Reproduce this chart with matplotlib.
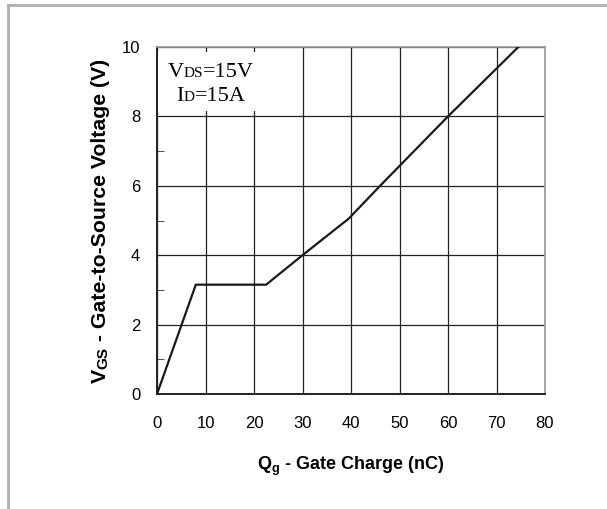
import matplotlib.pyplot as plt
from matplotlib.lines import Line2D
from matplotlib.patches import Rectangle
from matplotlib.offsetbox import TextArea, HPacker, VPacker, AnnotationBbox
from matplotlib.ticker import MultipleLocator

# gate charge curve
qg = [0, 8, 22.5, 30, 39.5, 46, 60, 74.5]
vgs = [0, 3.15, 3.15, 4.0, 5.05, 6.0, 8.0, 10.0]

x_ticks = [0, 10, 20, 30, 40, 50, 60, 70, 80]
y_ticks = [0, 2, 4, 6, 8, 10]

plt.rcParams['font.family'] = ['Liberation Sans', 'DejaVu Sans']

fig = plt.figure(figsize=(6.07, 5.09), dpi=100)
ax = fig.add_axes([157 / 607, 1 - 394 / 509, 388 / 607, 347 / 509])

ax.set_xlim(0, 80)
ax.set_ylim(0, 10)
ax.set_xticks(x_ticks)
ax.set_yticks(y_ticks)
ax.yaxis.set_minor_locator(MultipleLocator(1))
ax.grid(True, which='major', color='#222222', lw=0.9)
ax.tick_params(which='both', direction='in', labelsize=12, color='#333333')
ax.tick_params(which='major', length=0)
ax.tick_params(which='minor', length=5)
ax.tick_params(axis='x', pad=16)
ax.tick_params(axis='y', pad=12)

ax.plot(qg, vgs, color='#1a1a1a', lw=1.6, zorder=3)

for side in ['top', 'right']:
    ax.spines[side].set_color('#999999')
    ax.spines[side].set_linewidth(1.2)
for side in ['left', 'bottom']:
    ax.spines[side].set_color('#222222')
    ax.spines[side].set_linewidth(1.4)

# white box behind the test conditions
ax.add_patch(Rectangle((0.3, 8.15), 22.7, 1.7, facecolor='white', edgecolor='none', zorder=2.5))

serif = ['Liberation Serif']
line1 = HPacker(children=[TextArea('V', textprops=dict(family=serif, size=16)),
                          TextArea('DS', textprops=dict(family=serif, size=11)),
                          TextArea('=15V', textprops=dict(family=serif, size=16))],
                align='baseline', pad=0, sep=0)
line2 = HPacker(children=[TextArea('I', textprops=dict(family=serif, size=16)),
                          TextArea('D', textprops=dict(family=serif, size=11)),
                          TextArea('=15A', textprops=dict(family=serif, size=16))],
                align='baseline', pad=0, sep=0)
cond = VPacker(children=[line1, line2], align='center', pad=0, sep=3)
ab = AnnotationBbox(cond, (11.1, 8.92), xycoords='data', frameon=False, zorder=4)
ax.add_artist(ab)

ax.set_xlabel(r'Q$_{\mathregular{g}}$ - Gate Charge (nC)', fontsize=13,
              fontweight='bold', labelpad=17)

# y label built from pieces so GS sits small on the baseline
yl1 = fig.text(110 / 607, 1 - 383 / 509, 'V', rotation=90, fontsize=15.3,
               fontweight='bold', ha='right', va='bottom')
yl2 = ax.annotate('GS', xy=(1, 1), xycoords=yl1, rotation=90, fontsize=11,
                  fontweight='bold', ha='right', va='bottom', annotation_clip=False)
yl3 = ax.annotate(' - Gate-to-Source Voltage (V)', xy=(1, 1), xycoords=yl2, rotation=90,
                  fontsize=15.3, fontweight='bold', ha='right', va='bottom',
                  annotation_clip=False)

# light frame round the figure
fig.add_artist(Line2D([8 / 607, 1], [1 - 5 / 509, 1 - 5 / 509], color='#b0b0b0', lw=2,
                      transform=fig.transFigure))
fig.add_artist(Line2D([8 / 607, 8 / 607], [0, 1 - 5 / 509], color='#b0b0b0', lw=2,
                      transform=fig.transFigure))

fig.savefig('out.png', dpi=100)
